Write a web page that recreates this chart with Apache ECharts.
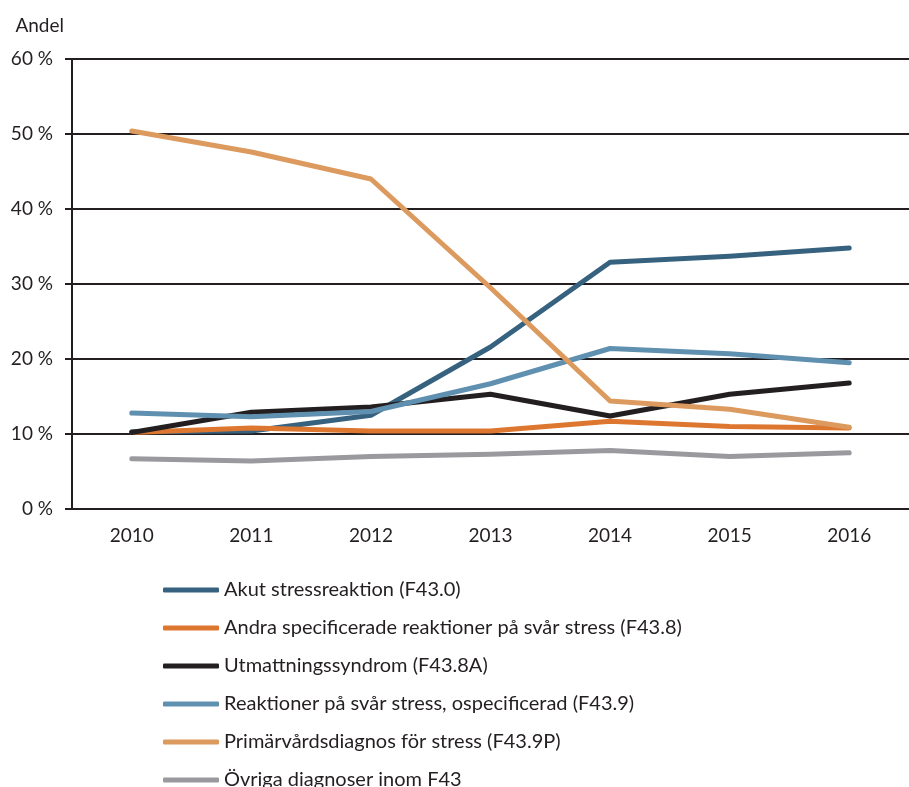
<!DOCTYPE html>
<html><head><meta charset="utf-8">
<script src="https://cdn.jsdelivr.net/npm/echarts@6/dist/echarts.min.js"></script>
<style>html,body{margin:0;padding:0;background:#fff}#c{width:909px;height:787px}</style>
</head><body><div id="c"></div>
<script>
const years = ['2010','2011','2012','2013','2014','2015','2016'];
const akut = [10.3, 10.4, 12.5, 21.6, 32.9, 33.7, 34.8];
const andra = [10.2, 10.8, 10.4, 10.4, 11.7, 11.0, 10.8];
const utmattning = [10.2, 12.9, 13.6, 15.3, 12.4, 15.3, 16.8];
const reaktioner = [12.8, 12.3, 13.0, 16.7, 21.4, 20.7, 19.5];
const primar = [50.4, 47.6, 44.0, 29.5, 14.4, 13.3, 10.9];
const ovriga = [6.7, 6.4, 7.0, 7.3, 7.8, 7.0, 7.5];
const seriesNames = ['Akut stressreaktion (F43.0)','Andra specificerade reaktioner på svår stress (F43.8)','Utmattningssyndrom (F43.8A)','Reaktioner på svår stress, ospecificerad (F43.9)','Primärvårdsdiagnos för stress (F43.9P)','Övriga diagnoser inom F43'];
const colors = ['#37627f','#dd7730','#231f20','#6090b0','#dc9a5e','#9a9a9e'];
const yTicks = [0,10,20,30,40,50,60];
const dataSets = [akut, andra, utmattning, reaktioner, primar, ovriga];
const font = 'Lato';
const chart = echarts.init(document.getElementById('c'));
chart.setOption({
  animation:false,
  grid:{left:72, top:59, height:450, width:843, containLabel:false},
  legend: seriesNames.map((n,i)=>({
    orient:'vertical', left:158, top:575 + i*38, itemWidth:56, itemHeight:5, icon:'roundRect',
    textStyle:{fontFamily:font, fontSize:20, color:'#231f20'},
    data:[n]
  })),
  xAxis:{type:'category', data:years, boundaryGap:true,
    axisLine:{show:false}, axisTick:{show:false},
    axisLabel:{fontFamily:font, fontSize:19, color:'#231f20', margin:17}},
  yAxis:{type:'value', min:0, max:60, interval:10,
    name:'Andel', nameLocation:'end', nameGap:24,
    nameTextStyle:{fontFamily:font, fontSize:19, color:'#231f20', align:'right', padding:[0,8,0,0]},
    axisLine:{show:true, lineStyle:{color:'#231f20', width:2}},
    axisTick:{show:true, length:7, lineStyle:{color:'#231f20', width:2}},
    axisLabel:{fontFamily:font, fontSize:19, color:'#231f20', margin:19, formatter: v => yTicks.includes(v) ? v + ' %' : ''},
    splitLine:{show:true, lineStyle:{color:'#231f20', width:2}}},
  series: dataSets.map((d,i)=>({
    name: seriesNames[i], type:'line', data:d, showSymbol:false, symbol:'none',
    lineStyle:{width:5, color:colors[i], cap:'round', join:'round'},
    itemStyle:{color:colors[i]}
  }))
});
</script></body></html>
